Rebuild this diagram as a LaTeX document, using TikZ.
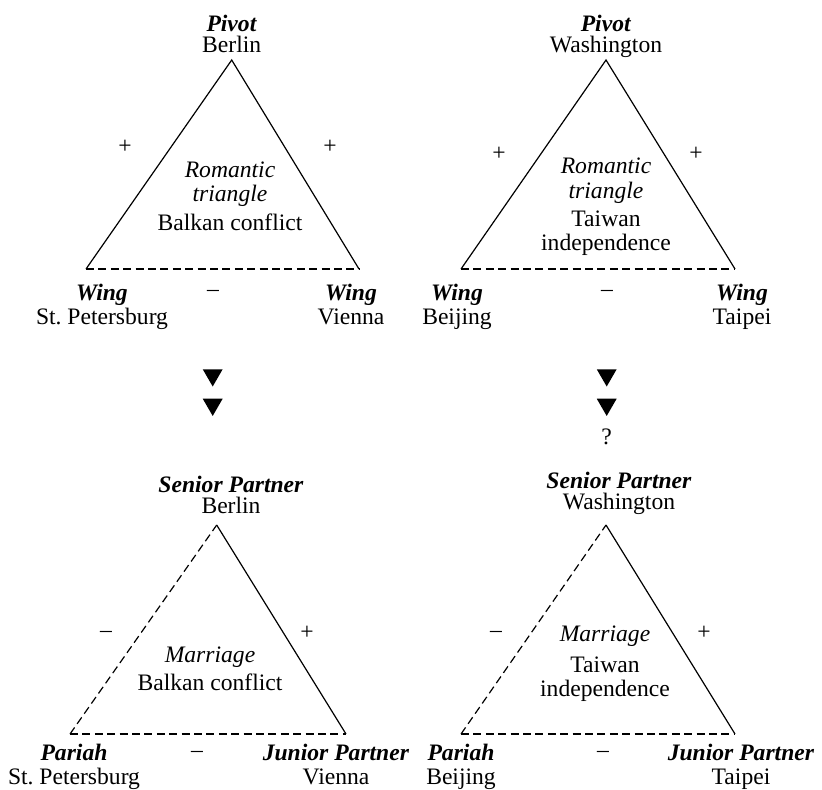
\documentclass[tikz,border=0pt]{standalone}
\usepackage{fontspec}
\setmainfont{Liberation Serif}
\usepackage{tikz}
\usetikzlibrary{positioning, shapes.geometric}
\tikzset{
  posedge/.style={line width=0.6pt},
  negedge/.style={line width=0.6pt, dash pattern=on 4pt off 2.2pt},
  actor/.style={align=center, inner sep=0pt, anchor=north},
  top actor/.style={align=center, inner sep=0pt, font=\fontsize{11.8}{10.6}\selectfont},
  signlab/.style={inner sep=0pt},
  issue/.style={align=center, inner sep=0pt},
  downmark/.style={regular polygon, regular polygon sides=3, shape border rotate=180,
    fill=black, inner sep=0pt, minimum size=11.5pt},
}
\newcommand{\rolename}[1]{\textbf{\textit{#1}}}

\begin{document}
\begin{tikzpicture}[x=0.5pt, y=-0.5pt, font=\fontsize{11.8}{12.2}\selectfont]
\useasboundingbox (0,0) rectangle (822,789);
% top left: romantic triangle, Balkans
\coordinate (tlA) at (231.7,60);
\coordinate (tlL) at (86,269);
\coordinate (tlR) at (359,269);
\draw[posedge] (tlL) -- (tlA) -- (tlR);
\draw[negedge] (tlL) -- (tlR);
\node[top actor, anchor=north] (tlAlab) at (231.7,14.5) {\rolename{Pivot}\\Berlin};
\node[actor] (tlLlab) at (102,283.5) {\rolename{Wing}\\St.\ Petersburg};
\node[actor] (tlRlab) at (351,283.5) {\rolename{Wing}\\Vienna};
\node[signlab] (tlLs) at (125,147) {+};
\node[signlab] (tlRs) at (330,147) {+};
\node[signlab] (tlBs) at (213,293) {\textendash};
\node[issue] (tlmid) at (230,196) {\textit{Romantic}\\\textit{triangle}\\[2pt]Balkan conflict};
% top right: romantic triangle, Taiwan
\coordinate (trA) at (606,60);
\coordinate (trL) at (461,269);
\coordinate (trR) at (735,269);
\draw[posedge] (trL) -- (trA) -- (trR);
\draw[negedge] (trL) -- (trR);
\node[top actor, anchor=north] (trAlab) at (606,14.5) {\rolename{Pivot}\\Washington};
\node[actor] (trLlab) at (457,283.5) {\rolename{Wing}\\Beijing};
\node[actor] (trRlab) at (742,283.5) {\rolename{Wing}\\Taipei};
\node[signlab] (trLs) at (499,154) {+};
\node[signlab] (trRs) at (696,154) {+};
\node[signlab] (trBs) at (607,293) {\textendash};
\node[issue] (trmid) at (606,207) {\textit{Romantic}\\\textit{triangle}\\[2pt]Taiwan\\independence};
% transitions
\node[downmark] (lDown1) at (212.7,375) {};
\node[downmark, below=5.5pt of lDown1] (lDown2) {};
\node[downmark] (rDown1) at (606.7,375) {};
\node[downmark, below=5.5pt of rDown1] (rDown2) {};
\node[inner sep=0pt, below=6pt of rDown2] (qmark) {?};
% bottom left: marriage, Balkans
\coordinate (blA) at (216.7,525);
\coordinate (blL) at (70,734);
\coordinate (blR) at (346,734);
\draw[negedge] (blL) -- (blA);
\draw[posedge] (blA) -- (blR);
\draw[negedge] (blL) -- (blR);
\node[top actor] (blAlab) at (231,495) {\rolename{Senior Partner}\\Berlin};
\node[actor] (blLlab) at (74,743.5) {\rolename{Pariah}\\St.\ Petersburg};
\node[actor] (blRlab) at (336,743.5) {\rolename{Junior Partner}\\Vienna};
\node[signlab] (blLs) at (106,634) {\textendash};
\node[signlab] (blRs) at (307,633) {+};
\node[signlab] (blBs) at (197,754) {\textendash};
\node[issue] (blmid) at (210,669) {\textit{Marriage}\\[2pt]Balkan conflict};
% bottom right: marriage, Taiwan
\coordinate (brA) at (606,525);
\coordinate (brL) at (461,734);
\coordinate (brR) at (735,734);
\draw[negedge] (brL) -- (brA);
\draw[posedge] (brA) -- (brR);
\draw[negedge] (brL) -- (brR);
\node[top actor] (brAlab) at (619,493) {\rolename{Senior Partner}\\Washington};
\node[actor] (brLlab) at (461,743.5) {\rolename{Pariah}\\Beijing};
\node[actor] (brRlab) at (741,743.5) {\rolename{Junior Partner}\\Taipei};
\node[signlab] (brLs) at (496,634) {\textendash};
\node[signlab] (brRs) at (704,633) {+};
\node[signlab] (brBs) at (603,754) {\textendash};
\node[issue] (brmid) at (605,664) {\textit{Marriage}\\[3pt]Taiwan\\independence};
\end{tikzpicture}
\end{document}
